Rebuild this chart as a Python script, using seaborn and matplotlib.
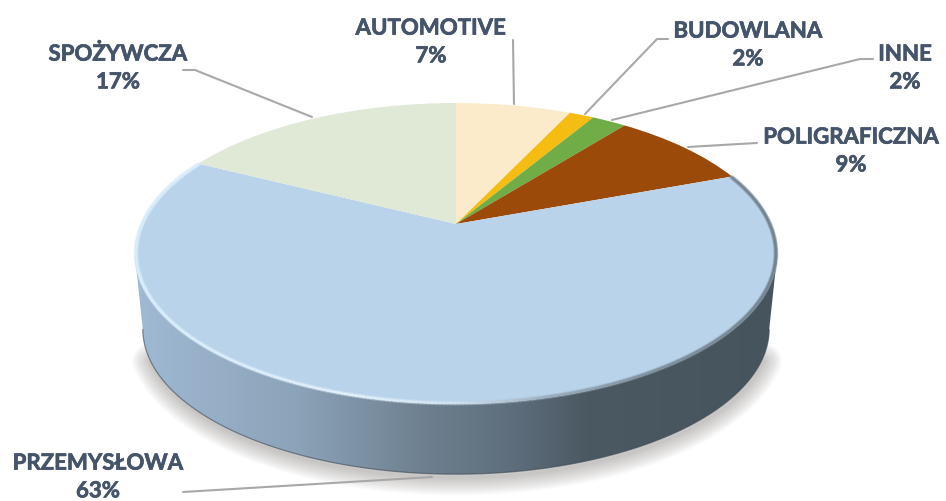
import numpy as np
import seaborn as sns
import matplotlib
matplotlib.use("Agg")
import matplotlib.pyplot as plt
import matplotlib.patheffects as pe
from matplotlib.collections import LineCollection
from matplotlib.colors import LinearSegmentedColormap
from matplotlib.patches import Polygon
from matplotlib.transforms import Transform

# Slices clockwise from 12 o'clock
sectors = ['AUTOMOTIVE', 'BUDOWLANA', 'INNE', 'POLIGRAFICZNA', 'PRZEMYSŁOWA', 'SPOŻYWCZA']
shares = [7.0, 1.5, 2.1, 8.7, 63.2, 17.5]
share_labels = ['7%', '2%', '2%', '9%', '63%', '17%']
sector_colors = ['#FBEBCB', '#F5BC12', '#70AD47', '#9C4A09', '#B9D3EA', '#DFE9D5']

TEXT_COLOR = '#44546A'
LINE_COLOR = '#A8A8A8'

# Label centres and leader lines, in pixels
label_pos = [(431, 43), (748, 46), (905, 69), (851, 152), (98, 478), (118, 69)]
leaders = [
    [(513, 41), (514, 105)],
    [(668, 40), (657, 40), (585, 115)],
    [(873, 60), (860, 60), (612, 121)],
    [(757, 144), (722, 146), (688, 148)],
    [(183, 493), (432, 478)],
    [(183, 71), (195, 71), (312, 118)],
]

# Perspective of the pie's top face
APEX_X, APEX_Y = 456, 225
TILT = 0.196
SCALE_X, SCALE_Y = 315, 144.7
DEPTH_CY, TOP_CY = 330, 254.5


def project(xy):
    xy = np.asarray(xy, dtype=float)
    w = 1 + TILT * xy[..., 1]
    return np.stack([APEX_X + SCALE_X * xy[..., 0] / w,
                     APEX_Y - SCALE_Y * xy[..., 1] / w], axis=-1)


class TiltTransform(Transform):
    input_dims = 2
    output_dims = 2

    def transform_non_affine(self, values):
        return project(values)


sns.set_theme(style='white')
plt.rcParams['font.family'] = ['Lato', 'DejaVu Sans']

fig, ax = plt.subplots(figsize=(9.46, 5.02), dpi=100)
fig.subplots_adjust(0, 0, 1, 1)

wedges, _ = ax.pie(shares, colors=sns.color_palette(sector_colors), startangle=90,
                   counterclock=False, radius=1, wedgeprops={'linewidth': 0})
tilt = TiltTransform()
for w in wedges:
    w.set_transform(tilt + ax.transData)
    w.set_zorder(4)

# Outline of the side wall
t = np.linspace(0, 2 * np.pi, 720, endpoint=False)
rim = project(np.c_[np.cos(t), np.sin(t)])
lower = rim[rim[:, 1] >= TOP_CY]
lower = lower[np.argsort(lower[:, 0])]
base = np.c_[APEX_X + (lower[:, 0] - APEX_X) * 0.975, DEPTH_CY + (lower[:, 1] - TOP_CY) * 0.965]
wall = np.vstack([lower, base[::-1]])

# Soft shadow under the pie, only along the base
n_skip = len(base) // 14
for lw in np.arange(26, 1, -2):
    ax.plot(base[n_skip:-n_skip, 0] + 1, base[n_skip:-n_skip, 1] + 3, color='#6E6A64',
            lw=lw, alpha=0.03, solid_capstyle='round', zorder=1)

wall_cmap = LinearSegmentedColormap.from_list('wall', [
    (0.00, '#A0BAD4'), (0.25, '#8CA3B9'), (0.45, '#6E808F'),
    (0.60, '#5C6C7A'), (0.70, '#4B5963'), (1.00, '#46545E')])
im = ax.imshow(np.linspace(0, 1, 256)[None, :], cmap=wall_cmap, aspect='auto',
               extent=(134, 778, 480, 250), zorder=2)
clip = Polygon(wall, closed=True, transform=ax.transData)
im.set_clip_path(clip)
ax.plot(base[:, 0], base[:, 1], color='#3F4A55', lw=0.9, alpha=0.6, zorder=3)

# Bevel along the rim of the big slice
start = np.deg2rad(90 - sum(shares[:4]) * 3.6)
stop = np.deg2rad(90 - sum(shares[:5]) * 3.6)
arc_t = np.linspace(start, stop, 400)
arc = project(0.996 * np.c_[np.cos(arc_t), np.sin(arc_t)])
segs = np.stack([arc[:-1], arc[1:]], axis=1)
rim_cmap = LinearSegmentedColormap.from_list('rim', [
    (0.00, '#D8EEFD'), (0.35, '#E4F1FB'), (0.50, '#D2E3F2'),
    (0.65, '#9AAAB8'), (0.80, '#7E8E9B'), (1.00, '#74838F')])
rim_colors = rim_cmap((arc[:-1, 0] - 134) / (778 - 134))
for lw, alpha in [(3.5, 0.2), (2.2, 0.4), (1.1, 0.8)]:
    ax.add_collection(LineCollection(segs, colors=rim_colors, linewidths=lw, alpha=alpha,
                                     capstyle='round', zorder=5))

for pts in leaders:
    xs, ys = zip(*pts)
    ax.plot(xs, ys, color=LINE_COLOR, lw=1.5, solid_joinstyle='round', zorder=6)

for name, pct, (x, y) in zip(sectors, share_labels, label_pos):
    ax.text(x, y, f'{name}\n{pct}', ha='center', va='center', color=TEXT_COLOR,
            fontsize=16, fontweight='bold', linespacing=1.4, zorder=7,
            path_effects=[pe.withStroke(linewidth=0.5, foreground=TEXT_COLOR)])

ax.set_aspect('auto')
ax.set_xlim(0, 946)
ax.set_ylim(502, 0)
ax.axis('off')
fig.savefig('out.png', dpi=100)
